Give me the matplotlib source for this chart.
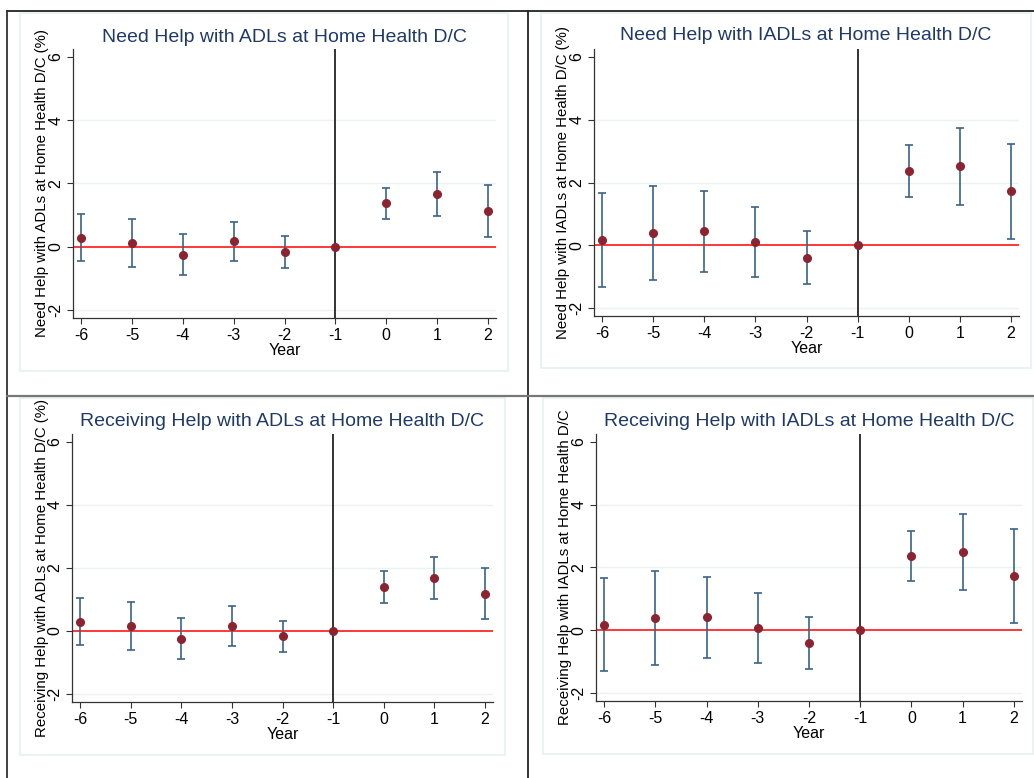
import matplotlib
matplotlib.use("Agg")
import matplotlib.pyplot as plt
from matplotlib.lines import Line2D
from matplotlib.patches import Rectangle

plt.rcParams['font.family'] = ['Liberation Sans', 'DejaVu Sans']

# --- Data (event-study estimates) ---
years = [-6, -5, -4, -3, -2, -1, 0, 1, 2]

need_adl = [0.29, 0.11, -0.25, 0.17, -0.18, 0.0, 1.37, 1.67, 1.13]
need_adl_lo = [-0.44, -0.63, -0.89, -0.45, -0.67, 0.0, 0.87, 0.98, 0.32]
need_adl_hi = [1.03, 0.87, 0.41, 0.79, 0.34, 0.0, 1.86, 2.37, 1.96]

need_iadl = [0.16, 0.39, 0.45, 0.11, -0.39, 0.0, 2.36, 2.51, 1.72]
need_iadl_lo = [-1.34, -1.11, -0.86, -1.02, -1.24, 0.0, 1.54, 1.29, 0.21]
need_iadl_hi = [1.66, 1.89, 1.74, 1.23, 0.47, 0.0, 3.18, 3.74, 3.23]

recv_adl = [0.30, 0.16, -0.24, 0.16, -0.17, 0.0, 1.39, 1.69, 1.19]
recv_adl_lo = [-0.43, -0.59, -0.89, -0.46, -0.66, 0.0, 0.90, 1.01, 0.38]
recv_adl_hi = [1.04, 0.91, 0.40, 0.79, 0.31, 0.0, 1.89, 2.36, 2.00]

recv_iadl = [0.17, 0.39, 0.42, 0.07, -0.40, 0.0, 2.36, 2.49, 1.74]
recv_iadl_lo = [-1.31, -1.09, -0.87, -1.04, -1.24, 0.0, 1.56, 1.28, 0.23]
recv_iadl_hi = [1.66, 1.88, 1.71, 1.19, 0.44, 0.0, 3.17, 3.70, 3.24]

titles = ["Need Help with ADLs at Home Health D/C",
          "Need Help with IADLs at Home Health D/C",
          "Receiving Help with ADLs at Home Health D/C",
          "Receiving Help with IADLs at Home Health D/C"]
ylabels = ["Need Help with ADLs at Home Health D/C (%)",
           "Need Help with IADLs at Home Health D/C (%)",
           "Receiving Help with ADLs at Home Health D/C (%)",
           "Receiving Help with IADLs at Home Health D/C"]
yticks = [-2, 0, 2, 4, 6]

W, H = 1034, 778
fig = plt.figure(figsize=(W / 100, H / 100), dpi=100)
fig.patch.set_facecolor("white")

def px_rect(l, t, r, b):
    return [l / W, 1 - b / H, (r - l) / W, (b - t) / H]

# light graph-region frames
for l, t, r, b in [(20, 13, 508, 371), (541, 13, 1031, 368),
                   (20, 398, 505, 755), (543, 398, 1033, 754)]:
    fig.add_artist(Rectangle((l / W, 1 - b / H), (r - l) / W, (b - t) / H,
                             transform=fig.transFigure, fill=False,
                             edgecolor="#e6f0f2", lw=1.2))

# panel borders
fig.add_artist(Line2D([7 / W, 1], [1 - 11 / H] * 2, color="#222222", lw=1.3))
fig.add_artist(Line2D([7 / W] * 2, [0, 1 - 11 / H], color="#333333", lw=1.3))
fig.add_artist(Line2D([528 / W] * 2, [0, 1 - 11 / H], color="#222222", lw=1.3))
fig.add_artist(Line2D([7 / W, 1], [1 - 396 / H] * 2, color="#777777", lw=1.6))

panels = [
    (px_rect(73, 49, 496, 318), need_adl, need_adl_lo, need_adl_hi, (284, 37), 42),
    (px_rect(594, 49, 1019, 316), need_iadl, need_iadl_lo, need_iadl_hi, (806, 36), 563),
    (px_rect(72, 434, 493, 702), recv_adl, recv_adl_lo, recv_adl_hi, (282, 422), 42),
    (px_rect(596, 434, 1022, 701), recv_iadl, recv_iadl_lo, recv_iadl_hi, (809, 422), 565),
]

for i, (rect, est, lo, hi, tpos, ylx) in enumerate(panels):
    ax = fig.add_axes(rect)
    ax.set_xlim(-6.16, 2.16)
    ax.set_ylim(-2.25, 6.25)
    for g in [-2, 2, 4]:
        ax.axhline(g, color="#eaf2f3", lw=1.0, zorder=0)
    ax.axhline(0, color="#ff3838", lw=1.4, zorder=1)
    ax.axvline(-1, color="#333333", lw=1.4, zorder=1)

    yerr = [[e - l for e, l in zip(est, lo)], [h - e for e, h in zip(est, hi)]]
    ax.errorbar(years, est, yerr=yerr, fmt="none", ecolor="#3b6389",
                elinewidth=1.2, capsize=2.8, capthick=1.2, zorder=2)
    ax.plot(years, est, "o", color="#8c2330", ms=5.5, zorder=3)

    ax.set_xticks(years)
    ax.set_xticklabels([str(y) for y in years])
    ax.set_yticks(yticks)
    ax.set_yticklabels([str(y) for y in yticks], rotation=90, va="center")
    ax.tick_params(direction="out", length=4, width=0.8, color="#333333",
                   labelsize=11.5, pad=3)
    for s in ["top", "right"]:
        ax.spines[s].set_visible(False)
    for s in ["left", "bottom"]:
        ax.spines[s].set_color("#333333")
        ax.spines[s].set_linewidth(0.9)
    ax.set_xlabel("Year", fontsize=11.5, labelpad=0.5)

    fig.text(tpos[0] / W, 1 - tpos[1] / H, titles[i], fontsize=14,
             color="#1f3a68", ha="center", va="center")
    ycen = (rect[1] + rect[3] / 2)
    fig.text(ylx / W, ycen, ylabels[i], fontsize=10.8, rotation=90,
             ha="center", va="center", color="black")

fig.savefig("out.png", dpi=100)
